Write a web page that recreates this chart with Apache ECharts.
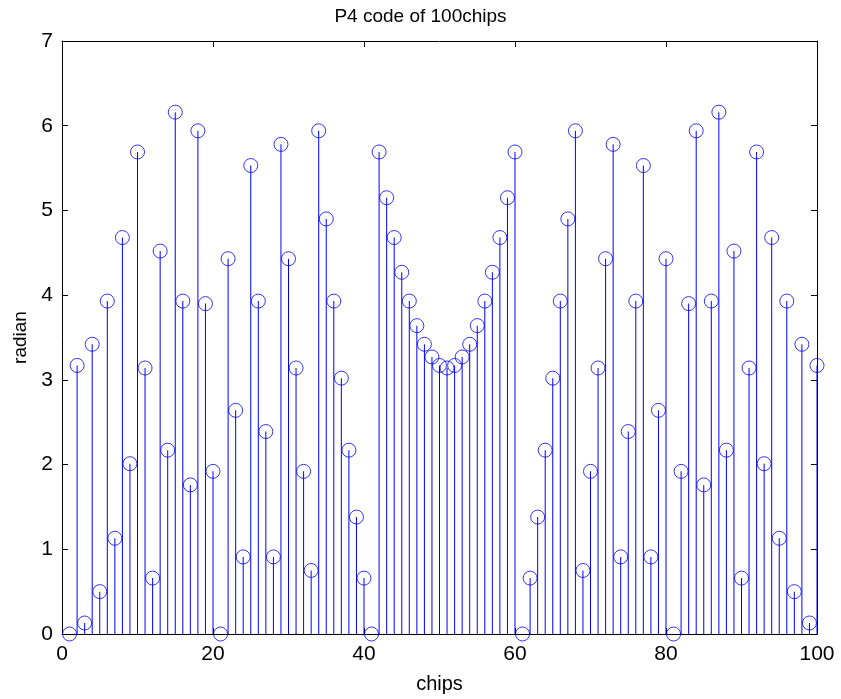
<!DOCTYPE html>
<html><head><meta charset="utf-8">
<script src="https://cdn.jsdelivr.net/npm/echarts@6/dist/echarts.min.js"></script>
<style>html,body{margin:0;padding:0;background:#fff}#c{width:841px;height:699px}</style>
</head><body><div id="c"></div>
<script>
var chips = [];
for (var i = 1; i <= 100; i++) chips.push(i);
var radian = [0,3.17,0.13,3.42,0.50,3.93,1.13,4.68,2.01,5.69,
3.14,0.66,4.52,2.17,6.16,3.93,1.76,5.94,3.90,1.92,
0,4.43,2.64,0.91,5.53,3.93,2.39,0.91,5.78,4.43,
3.14,1.92,0.75,5.94,4.90,3.93,3.02,2.17,1.38,0.66,
0,5.69,5.15,4.68,4.27,3.93,3.64,3.42,3.27,3.17,
3.14,3.17,3.27,3.42,3.64,3.93,4.27,4.68,5.15,5.69,
0,0.66,1.38,2.17,3.02,3.93,4.90,5.94,0.75,1.92,
3.14,4.43,5.78,0.91,2.39,3.93,5.53,0.91,2.64,4.43,
0,1.92,3.90,5.94,1.76,3.93,6.16,2.17,4.52,0.66,
3.14,5.69,2.01,4.68,1.13,3.93,0.50,3.42,0.13,3.17];
var xTicks = [0,20,40,60,80,100];
var yTicks = [0,1,2,3,4,5,6,7];
var titleText = 'P4 code of 100chips';
var xName = 'chips', yName = 'radian';

var pts = chips.map(function(x, i){ return [x, radian[i]]; });
var font = 'Liberation Sans, Arial, Helvetica, sans-serif';
function axisCommon(show){
  return {
    axisLine:{show:true, onZero:false, lineStyle:{color:'#000', width:1}},
    axisTick:{show:true, inside:true, length:6, lineStyle:{color:'#000'}},
    splitLine:{show:false},
    axisLabel:{show:show, color:'#000', fontSize:21, fontFamily:font}
  };
}
var chart = echarts.init(document.getElementById('c'));
chart.setOption({
  animation:false,
  title:{text:titleText, left:'center', top:2, textStyle:{fontSize:19, fontWeight:'normal', color:'#000', fontFamily:font}},
  grid:{left:62, right:24, top:41, bottom:65, containLabel:false},
  xAxis:[
    Object.assign({type:'value', min:0, max:100, interval:20, position:'bottom',
      name:xName, nameLocation:'middle', nameGap:40,
      nameTextStyle:{fontSize:20, color:'#000', fontFamily:font}}, axisCommon(true),
      {axisLabel:{show:true, color:'#000', fontSize:21, fontFamily:font, margin:10}}),
    Object.assign({type:'value', min:0, max:100, interval:20, position:'top'}, axisCommon(false))
  ],
  yAxis:[
    Object.assign({type:'value', min:0, max:7, interval:1, position:'left',
      name:yName, nameLocation:'middle', nameGap:30, nameRotate:90,
      nameTextStyle:{fontSize:19, color:'#000', fontFamily:font}}, axisCommon(true),
      {axisLabel:{show:true, color:'#000', fontSize:21, fontFamily:font, margin:9}}),
    Object.assign({type:'value', min:0, max:7, interval:1, position:'right'}, axisCommon(false))
  ],
  series:[
    {type:'bar', data:pts, barWidth:1, itemStyle:{color:'#0000ff'}, silent:true, z:2},
    {type:'scatter', data:pts, symbol:'circle', symbolSize:14,
      itemStyle:{color:'rgba(0,0,0,0)', borderColor:'#0000ff', borderWidth:1}, z:3}
  ]
});
</script></body></html>
